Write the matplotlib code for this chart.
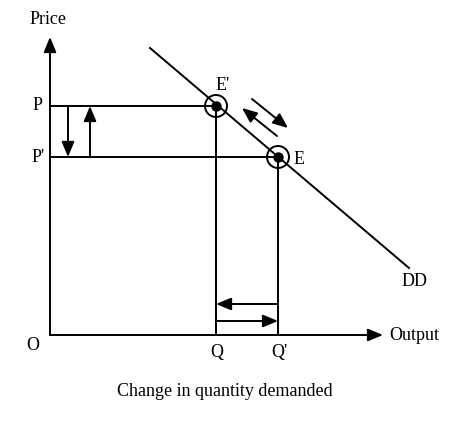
import matplotlib.pyplot as plt
from matplotlib.patches import Circle

plt.rcParams['font.family'] = ['Liberation Serif', 'DejaVu Serif']

# price levels and quantities (diagram units, origin O at 0,0)
price_levels = [229, 178]          # P, P'
price_labels = ["P", "P'"]
quantities = [166, 228]            # Q, Q'
quantity_labels = ["Q", "Q'"]
demand_x = [100, 359]              # DD line end points
demand_y = [287, 67]
equil_labels = ["E'", "E"]

fs = 13

fig = plt.figure(figsize=(4.5, 4.21), dpi=100)
ax = fig.add_axes([0, 0, 1, 1])
ax.set_xlim(-50, 400)
ax.set_ylim(-86, 335)
ax.axis("off")

arrow = dict(arrowstyle="-|>,head_length=0.65,head_width=0.27", color="black",
             lw=1.4, mutation_scale=14, shrinkA=0, shrinkB=0)

# axes
ax.annotate("", xy=(0, 298), xytext=(0, 0), arrowprops=arrow)
ax.annotate("", xy=(333, 0), xytext=(0, 0), arrowprops=arrow)
ax.text(-20, 315, "Price", fontsize=fs, ha="left", va="center")
ax.text(339, 0, "Output", fontsize=fs, ha="left", va="center")
ax.text(-17, -11, "O", fontsize=fs, ha="center", va="center")

# demand curve
ax.plot(demand_x, demand_y, color="black", lw=1.4)
ax.text(365, 53, "DD", fontsize=fs, ha="center", va="center")

# equilibrium points
for q, p in zip(quantities, price_levels):
    ax.plot([0, q], [p, p], color="black", lw=1.4)
    ax.plot([q, q], [0, p], color="black", lw=1.4)
    ax.add_patch(Circle((q, p), 11, fill=False, color="black", lw=1.4))
    ax.plot(q, p, "o", color="black", ms=6.5)
ax.text(quantities[0] + 7, price_levels[0] + 21, equil_labels[0],
        fontsize=fs, ha="center", va="center")
ax.text(quantities[1] + 21, price_levels[1] - 2, equil_labels[1],
        fontsize=fs, ha="center", va="center")

for p, lab in zip(price_levels, price_labels):
    ax.text(-12, p, lab, fontsize=fs, ha="center", va="center")
for q, lab in zip(quantities, quantity_labels):
    ax.text(q + 1, -18, lab, fontsize=fs, ha="center", va="center")

# price change arrows
ax.annotate("", xy=(18, price_levels[1]), xytext=(18, price_levels[0]), arrowprops=arrow)
ax.annotate("", xy=(40, price_levels[0]), xytext=(40, price_levels[1]), arrowprops=arrow)

# quantity change arrows
ax.annotate("", xy=(quantities[0], 31), xytext=(quantities[1], 31), arrowprops=arrow)
ax.annotate("", xy=(quantities[1], 14), xytext=(quantities[0], 14), arrowprops=arrow)

# movement along the demand curve
ax.annotate("", xy=(238, 207), xytext=(202, 236), arrowprops=arrow)
ax.annotate("", xy=(192, 227), xytext=(227, 199), arrowprops=arrow)

ax.text(175, -57, "Change in quantity demanded", fontsize=fs, ha="center", va="center")

fig.savefig("out.png", dpi=100)
